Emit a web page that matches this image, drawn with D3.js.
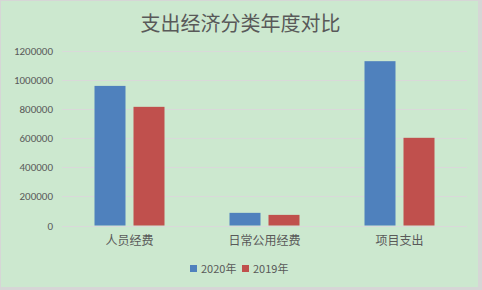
<!DOCTYPE html>
<html><head><meta charset="utf-8">
<script src="https://cdn.jsdelivr.net/npm/d3@7"></script>
<style>html,body{margin:0;padding:0;background:#d6d6d6;}svg{display:block;}</style>
</head><body>
<script>
const categories = ["人员经费", "日常公用经费", "项目支出"];
const seriesNames = ["2020年", "2019年"];
const values2020 = [960000, 87000, 1130000];
const values2019 = [816000, 73000, 603000];
const yTicks = [0, 200000, 400000, 600000, 800000, 1000000, 1200000];
const colors = ["#4F81BD", "#C0504D"];

(function () {
const W = 482, H = 290;
const svg = d3.select("body").append("svg").attr("width", W).attr("height", H);
svg.append("rect").attr("x", 1).attr("y", 1).attr("width", 477).attr("height", 286).attr("fill", "#CCE8CF");

const plotLeft = 62, plotRight = 467, plotTop = 51, plotBottom = 225.5;
const x = d3.scaleBand().domain(categories).range([plotLeft, plotRight]);
const y = d3.scaleLinear().domain([0, 1200000]).range([plotBottom, plotTop]);

const font = "'Microsoft YaHei','Noto Sans CJK SC',sans-serif";

// title
svg.append("text").attr("x", 240.5).attr("y", 31).attr("text-anchor", "middle")
  .attr("font-family", font).attr("font-size", 20).attr("fill", "#595959").text("支出经济分类年度对比");

// gridlines
svg.append("g").selectAll("line").data(yTicks).join("line")
  .attr("x1", plotLeft).attr("x2", plotRight)
  .attr("y1", d => Math.round(y(d)) + 0.5).attr("y2", d => Math.round(y(d)) + 0.5)
  .attr("stroke", "#D9D9D9").attr("stroke-width", 1);

// y axis labels
const yAxis = d3.axisLeft(y).tickValues(yTicks).tickSize(0).tickPadding(0).tickFormat(d3.format("d"));
const ga = svg.append("g").attr("transform", `translate(53,0)`).call(yAxis);
ga.select(".domain").remove();
ga.selectAll("text").attr("font-family", "Calibri,'Liberation Sans',sans-serif").attr("font-size", 11).attr("fill", "#595959");

// bars
const barW = 31, gap = 8;
const series = [values2020, values2019];
series.forEach((vals, si) => {
  svg.append("g").selectAll("rect").data(categories).join("rect")
    .attr("x", d => x(d) + x.bandwidth() / 2 - (barW * 2 + gap) / 2 + si * (barW + gap))
    .attr("width", barW)
    .attr("y", (d, i) => y(vals[i]))
    .attr("height", (d, i) => plotBottom - y(vals[i]))
    .attr("fill", colors[si]);
});

// category labels
const xAxis = d3.axisBottom(x).tickSize(0).tickPadding(0);
const gx = svg.append("g").attr("transform", `translate(0,${plotBottom + 11})`).call(xAxis);
gx.select(".domain").remove();
gx.selectAll("text").attr("font-family", font).attr("font-size", 12).attr("fill", "#595959");

// legend
const legendX = [190, 242];
seriesNames.forEach((n, i) => {
  svg.append("rect").attr("x", legendX[i]).attr("y", 265).attr("width", 7).attr("height", 7).attr("fill", colors[i]);
  svg.append("text").attr("x", legendX[i] + 11).attr("y", 272.5)
    .attr("font-family", font).attr("font-size", 11).attr("fill", "#595959").text(n);
});
})();
</script>
</body></html>
